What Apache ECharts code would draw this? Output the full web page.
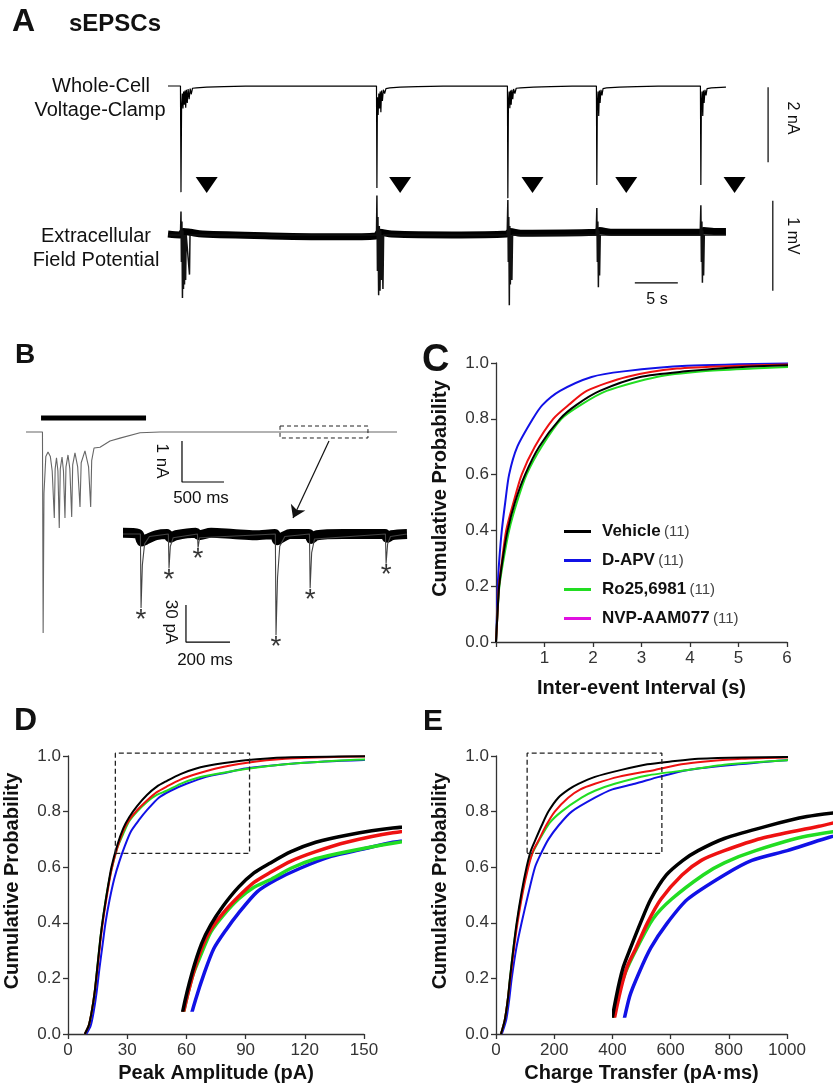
<!DOCTYPE html>
<html>
<head>
<meta charset="utf-8">
<script src="https://cdn.jsdelivr.net/npm/echarts@6.0.0/dist/echarts.min.js"></script>
<style>
html, body { margin: 0; padding: 0; background: #fff; }
#chart { width: 835px; height: 1088px; }
</style>
</head>
<body>
<div id="chart"></div>
<script>
// ---- data ----
var groups = ['Vehicle', 'D-APV', 'Ro25,6981', 'NVP-AAM077'];
var groupN = [11, 11, 11, 11];

// C: inter-event interval (s) vs cumulative probability
var intervalVehicle = [[0,0],[0.03,0.1],[0.065,0.2],[0.14,0.3],[0.24,0.4],[0.39,0.5],[0.6,0.6],[0.89,0.7],[1.32,0.8],[1.66,0.85],[2.14,0.9],[2.97,0.95],[3.9,0.97],[5.0,0.985],[6.3,0.993]];
var intervalDAPV = [[0,0],[0.02,0.1],[0.035,0.2],[0.07,0.3],[0.12,0.4],[0.19,0.5],[0.27,0.6],[0.44,0.7],[0.76,0.8],[0.96,0.85],[1.32,0.9],[1.97,0.95],[2.63,0.97],[3.93,0.99],[6.3,0.999]];
var intervalRo = [[0,0],[0.03,0.1],[0.07,0.2],[0.16,0.3],[0.27,0.4],[0.43,0.5],[0.63,0.6],[0.94,0.7],[1.35,0.8],[1.75,0.85],[2.28,0.9],[3.31,0.95],[4.27,0.97],[5.3,0.98],[6.3,0.988]];
var intervalNVP = [[0,0],[0.03,0.1],[0.06,0.2],[0.13,0.3],[0.21,0.4],[0.36,0.5],[0.53,0.6],[0.8,0.7],[1.18,0.8],[1.5,0.85],[1.87,0.9],[2.69,0.95],[3.73,0.98],[5.0,0.99],[6.3,0.996]];

// D: peak amplitude (pA)
var ampVehicle = [[8.5,0],[10.5,0.03],[12,0.08],[13.5,0.15],[15,0.25],[16.5,0.35],[18,0.43],[20,0.52],[22,0.6],[25,0.68],[28,0.74],[31,0.78],[35,0.82],[40,0.86],[45,0.89],[50,0.91],[57,0.935],[65,0.955],[75,0.97],[90,0.985],[110,0.995],[171,1.0]];
var ampDAPV = [[9.3,0],[11.5,0.03],[13,0.08],[14.5,0.15],[16,0.24],[17.5,0.32],[19,0.4],[21,0.48],[23.5,0.56],[26,0.62],[29,0.68],[32,0.73],[36,0.77],[40,0.805],[46,0.85],[52,0.875],[60,0.9],[70,0.925],[80,0.94],[90,0.955],[110,0.97],[130,0.98],[150,0.986],[171,0.99]];
var ampRo = [[8.5,0],[10.5,0.03],[12,0.08],[13.5,0.15],[15,0.25],[16.5,0.35],[18,0.43],[20,0.52],[22,0.59],[25,0.67],[28,0.72],[31,0.765],[35,0.8],[40,0.835],[45,0.86],[50,0.875],[57,0.9],[65,0.92],[75,0.935],[90,0.953],[110,0.97],[130,0.98],[150,0.987],[171,0.99]];
var ampNVP = [[8.5,0],[10.5,0.03],[12,0.08],[13.5,0.15],[15,0.24],[16.5,0.34],[18,0.42],[20,0.51],[22,0.59],[25,0.67],[28,0.73],[31,0.77],[35,0.805],[40,0.84],[45,0.87],[50,0.89],[57,0.915],[65,0.935],[75,0.955],[90,0.975],[110,0.99],[140,0.997],[171,0.999]];

// E: charge transfer (pA·ms)
var chargeVehicle = [[17,0],[30,0.05],[40,0.12],[48,0.2],[60,0.31],[71,0.4],[88,0.51],[105,0.6],[120,0.66],[136,0.7],[157,0.75],[180,0.8],[214,0.85],[250,0.88],[283,0.9],[340,0.925],[431,0.95],[520,0.97],[600,0.98],[695,0.99],[850,0.995],[1160,0.998]];
var chargeDAPV = [[20,0],[35,0.05],[45,0.12],[54,0.2],[70,0.31],[88,0.4],[110,0.5],[134,0.6],[155,0.65],[180,0.7],[215,0.75],[260,0.8],[340,0.85],[400,0.88],[477,0.9],[560,0.925],[660,0.95],[832,0.97],[1000,0.985],[1160,0.99]];
var chargeRo = [[17,0],[30,0.05],[40,0.12],[48,0.2],[60,0.31],[72,0.4],[90,0.51],[108,0.6],[125,0.65],[150,0.7],[185,0.76],[225,0.8],[294,0.85],[340,0.875],[408,0.9],[520,0.93],[660,0.95],[800,0.97],[1000,0.985],[1160,0.99]];
var chargeNVP = [[17,0],[30,0.05],[40,0.12],[49,0.2],[62,0.31],[74,0.4],[92,0.51],[111,0.6],[128,0.66],[148,0.7],[172,0.75],[202,0.8],[248,0.85],[290,0.88],[340,0.9],[420,0.925],[546,0.95],[637,0.97],[720,0.98],[843,0.99],[1000,0.995],[1160,0.997]];

// zoom boxes [xmin, xmax, ymin, ymax]
var ampBox = [24, 92, 0.65, 1.01];
var chargeBox = [107, 570, 0.65, 1.01];

// A: whole-cell current (s, nA)
var wholeCell = [[0,0],[1.45,0],
  [1.51,-2.83],[1.58,-0.55],[1.66,-0.2],[1.74,-0.6],[1.82,-0.15],[1.9,-0.5],[1.98,-0.12],[2.06,-0.58],[2.14,-0.1],[2.24,-0.45],[2.34,-0.08],[2.46,-0.35],[2.58,-0.07],[2.7,-0.22],[2.85,-0.06],[3.3,-0.05],[4.5,-0.03],[6.5,-0.015],[9,-0.005],
  [24.25,0],[24.3,-2.72],[24.36,-0.3],[24.44,-0.77],[24.52,-0.2],[24.6,-0.6],[24.68,-0.15],[24.76,-0.7],[24.84,-0.12],[24.94,-0.4],[25.05,-0.1],[25.2,-0.2],[25.35,-0.07],[25.8,-0.05],[27,-0.03],[29,-0.015],[32,-0.005],
  [39.48,0],[39.53,-2.99],[39.6,-0.4],[39.68,-0.15],[39.76,-0.59],[39.84,-0.12],[39.92,-0.5],[40.0,-0.1],[40.1,-0.35],[40.2,-0.08],[40.35,-0.2],[40.5,-0.06],[41,-0.05],[42.5,-0.03],[44.5,-0.015],[47,-0.005],
  [49.83,0],[49.88,-2.64],[49.94,-0.5],[50.02,-0.15],[50.1,-0.8],[50.18,-0.12],[50.26,-0.45],[50.36,-0.1],[50.48,-0.25],[50.6,-0.07],[51,-0.05],[52.5,-0.03],[54.5,-0.015],[57,-0.005],
  [61.93,0],[61.98,-2.64],[62.04,-0.5],[62.12,-0.15],[62.2,-0.8],[62.28,-0.12],[62.36,-0.45],[62.46,-0.1],[62.58,-0.25],[62.7,-0.07],[63.2,-0.05],[64.9,-0.03]];
// A: field potential baseline band (s, mV)
var fieldBand = [[0,0.01],[1.4,0],[1.8,0.04],[2.6,0.03],[4,0.01],[12,-0.01],[20,-0.02],[24.2,-0.01],[24.6,0.03],[26,0.01],[33,0],[39.4,0.01],[39.8,0.04],[41,0.02],[49.8,0.03],[50.2,0.05],[51.5,0.03],[56,0.03],[61.9,0.03],[62.3,0.05],[63.5,0.04],[64.9,0.04]];
// A: field potential spikes (s, mV)
var fieldSpikes = [[0,0],[1.45,0],[1.51,0.26],[1.56,-0.3],[1.62,0.15],[1.68,-0.7],[1.74,0.05],[1.8,-0.6],[1.86,0],[1.92,-0.55],[1.98,0],[2.05,-0.5],[2.12,0],[2.5,-0.44],[2.56,0],
  [24.25,0],[24.3,0.44],[24.36,-0.4],[24.42,0.2],[24.5,-0.67],[24.58,0.1],[24.66,-0.62],[24.74,0.05],[24.82,-0.5],[24.9,0],[25.0,-0.6],[25.08,0],
  [39.45,0],[39.53,0.39],[39.58,-0.3],[39.64,0.2],[39.7,-0.78],[39.76,0.1],[39.82,-0.55],[39.9,0],[40.0,-0.5],[40.08,0],
  [49.8,0],[49.88,0.3],[49.94,-0.3],[50.0,0.15],[50.06,-0.58],[50.12,0.05],[50.2,-0.45],[50.28,0],
  [61.9,0],[61.98,0.33],[62.04,-0.3],[62.1,0.15],[62.16,-0.53],[62.22,0.05],[62.3,-0.45],[62.38,0],[64.9,0]];
var stimTimes = [4.5, 27.0, 42.4, 53.3, 65.9];

// B: evoked current (ms, nA)
var evoked = [[0,0],[196,0],[204,-4.9],[214,-1.5],[236,-0.6],[262,-0.49],[290,-0.6],[312,-0.95],[337,-2.1],[347,-0.9],[363,-0.63],[380,-0.95],[396,-2.34],[408,-0.9],[429,-0.61],[446,-0.95],[464,-2.1],[476,-0.85],[500,-0.56],[522,-0.9],[544,-2.07],[556,-0.8],[583,-0.51],[615,-0.85],[643,-1.83],[657,-0.75],[702,-0.46],[745,-0.85],[770,-1.83],[782,-0.7],[810,-0.39],[881,-0.37],[1000,-0.22],[1119,-0.15],[1357,-0.02],[1595,0],[4417,0]];
var stimBar = [[179,0.34],[1429,0.34]];
// B inset: sEPSCs (ms, pA)
var insetBand = [[0,1],[70,0],[85,-6],[110,-4],[150,-1],[200,0],[215,-3],[240,-1],[330,1],[345,-1],[400,1],[500,0],[600,-1],[690,0],[700,-5],[730,-2],[760,0],[845,0],[855,-4],[880,-1],[1000,0],[1190,0],[1200,-3],[1220,-1],[1290,0]];
var insetEvents = [[0,0],[79,0],[82,-60],[88,-25],[98,-8],[120,-2],[206,0],[209,-28],[215,-10],[228,-3],[338,0],[341,-11],[348,-3],
  [692,0],[695,-82],[702,-35],[712,-10],[735,-2],[847,0],[850,-44],[857,-15],[870,-4],[1192,0],[1195,-24],[1202,-8],[1215,-2],[1290,0]];
var eventPeaks = [[82,-60],[209,-28],[341,-11],[695,-82],[850,-44],[1195,-24]];

var colors = ['#000000', '#1111e6', '#22dd22', '#ee1111'];
var FONT = '"Liberation Sans", Arial, sans-serif';

// ---- layout ----
var grids = [
  {left: 496, top: 363, width: 291, height: 279},   // 0 C
  {left: 68, top: 756, width: 296, height: 278},    // 1 D
  {left: 496, top: 756, width: 291, height: 278},   // 2 E
  {left: 183, top: 821, width: 216, height: 189},   // 3 D inset
  {left: 614, top: 802, width: 216, height: 214},   // 4 E inset
  {left: 168, top: 71, width: 619, height: 135},    // 5 A top
  {left: 168, top: 199, width: 619, height: 108},   // 6 A bottom
  {left: 26, top: 411.5, width: 378, height: 246},  // 7 B
  {left: 123, top: 514.3, width: 284, height: 140.6} // 8 B inset
];

var axisLineStyle = {color: '#333', width: 1.3};
function visX(grid, min, max, interval, name, gap, hideZero) {
  return {
    type: 'value', gridIndex: grid, min: min, max: max, interval: interval,
    name: name, nameLocation: 'middle', nameGap: gap,
    nameTextStyle: {fontSize: 20, fontWeight: 'bold', color: '#111', fontFamily: FONT},
    axisLine: {lineStyle: axisLineStyle}, axisTick: {length: 5, lineStyle: axisLineStyle},
    axisLabel: {color: '#333', fontSize: 17, margin: 8, fontFamily: FONT,
      formatter: function (v) { return (hideZero && v === 0) ? '' : String(v); }},
    splitLine: {show: false}
  };
}
function visY(grid) {
  return {
    type: 'value', gridIndex: grid, min: 0, max: 1, interval: 0.2,
    name: 'Cumulative Probability', nameLocation: 'middle', nameGap: 46,
    nameTextStyle: {fontSize: 20, fontWeight: 'bold', color: '#111', fontFamily: FONT, padding: [0, 0, 0, 28]},
    axisLine: {lineStyle: axisLineStyle}, axisTick: {length: 5, lineStyle: axisLineStyle},
    axisLabel: {color: '#333', fontSize: 17, margin: 7, fontFamily: FONT,
      formatter: function (v) { return v.toFixed(1); }},
    splitLine: {show: false}
  };
}
function hidden(grid, min, max) {
  return {type: 'value', gridIndex: grid, min: min, max: max, show: false, splitLine: {show: false}};
}

var xAxes = [
  visX(0, 0, 6, 1, 'Inter-event Interval (s)', 36, true),
  visX(1, 0, 150, 30, 'Peak Amplitude (pA)', 29, false),
  visX(2, 0, 1000, 200, 'Charge Transfer (pA\u00b7ms)', 29, false),
  hidden(3, 22, 92), hidden(4, 100, 570),
  hidden(5, 0, 72), hidden(6, 0, 72), hidden(7, 0, 4500), hidden(8, 0, 1290)
];
var yAxes = [
  visY(0), visY(1), visY(2),
  hidden(3, 0.6, 1.0), hidden(4, 0.56, 1.0),
  hidden(5, -3.2, 0.4), hidden(6, -0.8, 0.4), hidden(7, -5.5, 0.5), hidden(8, -98, 16)
];

function line(name, axis, data, color, width, extra) {
  var s = {
    type: 'line', name: name, xAxisIndex: axis, yAxisIndex: axis, data: data,
    showSymbol: false, symbol: 'none', silent: true, animation: false,
    lineStyle: {color: color, width: width}, itemStyle: {color: color}
  };
  for (var k in extra) s[k] = extra[k];
  return s;
}

var series = [];
var cdfSets = [
  [0, [intervalVehicle, intervalDAPV, intervalRo, intervalNVP], 2],
  [1, [ampVehicle, ampDAPV, ampRo, ampNVP], 2],
  [2, [chargeVehicle, chargeDAPV, chargeRo, chargeNVP], 2],
  [3, [ampVehicle, ampDAPV, ampRo, ampNVP], 3.5],
  [4, [chargeVehicle, chargeDAPV, chargeRo, chargeNVP], 3.5]
];
var drawOrder = [1, 2, 3, 0]; // blue, green, red, black on top
cdfSets.forEach(function (set) {
  var inset = set[0] >= 3;
  drawOrder.forEach(function (gi) {
    series.push(line(groups[gi], set[0], set[1][gi], colors[gi], set[2],
      {smooth: 0.25, clip: inset}));
  });
});

function boxPath(b) {
  return [[b[0], b[2]], [b[1], b[2]], [b[1], b[3]], [b[0], b[3]], [b[0], b[2]]];
}
series.push(line('ampBox', 1, boxPath(ampBox), '#222', 1.3, {clip: false, lineStyle: {color: '#222', width: 1.3, type: [5, 3]}}));
series.push(line('chargeBox', 2, boxPath(chargeBox), '#222', 1.3, {clip: false, lineStyle: {color: '#222', width: 1.3, type: [5, 3]}}));

// Panel A
series.push(line('wholeCell', 5, wholeCell, '#000', 1.2, {clip: false}));
series.push(line('fieldBand', 6, fieldBand, '#000', 7, {clip: false, smooth: 0.3}));
series.push(line('fieldSpikes', 6, fieldSpikes, '#111', 1.5, {clip: false}));
series.push({
  type: 'scatter', xAxisIndex: 5, yAxisIndex: 5, silent: true, animation: false,
  data: stimTimes.map(function (t) { return [t, -2.64]; }),
  symbol: 'triangle', symbolRotate: 180, symbolSize: [22, 16], itemStyle: {color: '#000', opacity: 1}
});
series.push(line('barNA', 5, [[69.8, -0.03], [69.8, -2.03]], '#000', 1.2, {clip: false}));
series.push(line('barMV', 6, [[70.35, 0.38], [70.35, -0.62]], '#000', 1.2, {clip: false}));
series.push(line('barS', 6, [[54.3, -0.533], [59.3, -0.533]], '#000', 1.2, {clip: false}));

// Panel B
series.push(line('evoked', 7, evoked, '#666', 1.1, {clip: false}));
series.push(line('stim', 7, stimBar, '#000', 5, {clip: false}));
series.push(line('zoomBox', 7, [[3024, 0.146], [4071, 0.146], [4071, -0.146], [3024, -0.146], [3024, 0.146]], '#222', 1, {clip: false, lineStyle: {color: '#222', width: 1, type: [4, 3]},
  markLine: {silent: true, symbol: ['none', 'arrow'], symbolSize: 12, label: {show: false},
    lineStyle: {color: '#111', width: 1.2, type: 'solid'},
    data: [[{coord: [3607, -0.22]}, {coord: [3179, -2.1]}]]}}));
series.push(line('barB', 7, [[1857, -0.22], [1857, -1.22], [2357, -1.22]], '#000', 1.2, {clip: false}));
series.push(line('insetBand', 8, insetBand, '#000', 10, {clip: false, smooth: 0.3}));
series.push(line('insetEvents', 8, insetEvents, '#444', 1.1, {clip: false}));
series.push({
  type: 'scatter', xAxisIndex: 8, yAxisIndex: 8, silent: true, animation: false,
  data: eventPeaks, symbolSize: 0,
  label: {show: true, position: 'bottom', distance: -2, formatter: '*', fontSize: 28, color: '#000', fontFamily: FONT}
});
series.push(line('barBi', 8, [[286, -57.6], [286, -87.6], [486, -87.6]], '#000', 1.2, {clip: false}));

function txt(x, y, s, size, bold, align, rot) {
  return {type: 'text', x: x, y: y, rotation: rot || 0, silent: true,
    style: {text: s, fontSize: size, fontWeight: bold ? 'bold' : 'normal', fontFamily: FONT,
      fill: '#111', align: align || 'left', verticalAlign: 'middle'}};
}
var R = -Math.PI / 2;
var graphics = [
  txt(12, 22, 'A', 32, true), txt(69, 24, 'sEPSCs', 24, true),
  txt(15, 355, 'B', 28, true), txt(422, 361, 'C', 38, true),
  txt(14, 721, 'D', 32, true), txt(423, 722, 'E', 30, true),
  txt(101, 86, 'Whole-Cell', 20, false, 'center'),
  txt(100, 110, 'Voltage-Clamp', 20, false, 'center'),
  txt(96, 236, 'Extracellular', 20, false, 'center'),
  txt(96, 260, 'Field Potential', 20, false, 'center'),
  txt(792, 118, '2 nA', 16, false, 'center', R),
  txt(792, 236, '1 mV', 16, false, 'center', R),
  txt(657, 300, '5 s', 16, false, 'center'),
  txt(162, 461, '1 nA', 17, false, 'center', R),
  txt(201, 498, '500 ms', 17, false, 'center'),
  txt(171, 622, '30 pA', 17, false, 'center', R),
  txt(205, 660, '200 ms', 17, false, 'center')
];

var legendData = groups.map(function (g, i) {
  var d = {name: g};
  if (i === 3) d.itemStyle = {color: '#e010e0'};
  return d;
});

var option = {
  backgroundColor: '#fff',
  animation: false,
  textStyle: {fontFamily: FONT},
  grid: grids,
  xAxis: xAxes,
  yAxis: yAxes,
  legend: {
    orient: 'vertical', left: 559, top: 518, itemWidth: 27, itemHeight: 3, itemGap: 12,
    icon: 'rect', selectedMode: false, data: legendData,
    formatter: function (name) { return '{b|' + name + '} {n|(' + groupN[groups.indexOf(name)] + ')}'; },
    textStyle: {rich: {
      b: {fontSize: 17, fontWeight: 'bold', color: '#111', lineHeight: 18, padding: [0, 0, 0, 6], fontFamily: FONT},
      n: {fontSize: 15, color: '#444', lineHeight: 18, fontFamily: FONT}
    }}
  },
  series: series,
  graphic: graphics
};

var chart = echarts.init(document.getElementById('chart'), null, {renderer: 'canvas'});
chart.setOption(option);
</script>
</body>
</html>
